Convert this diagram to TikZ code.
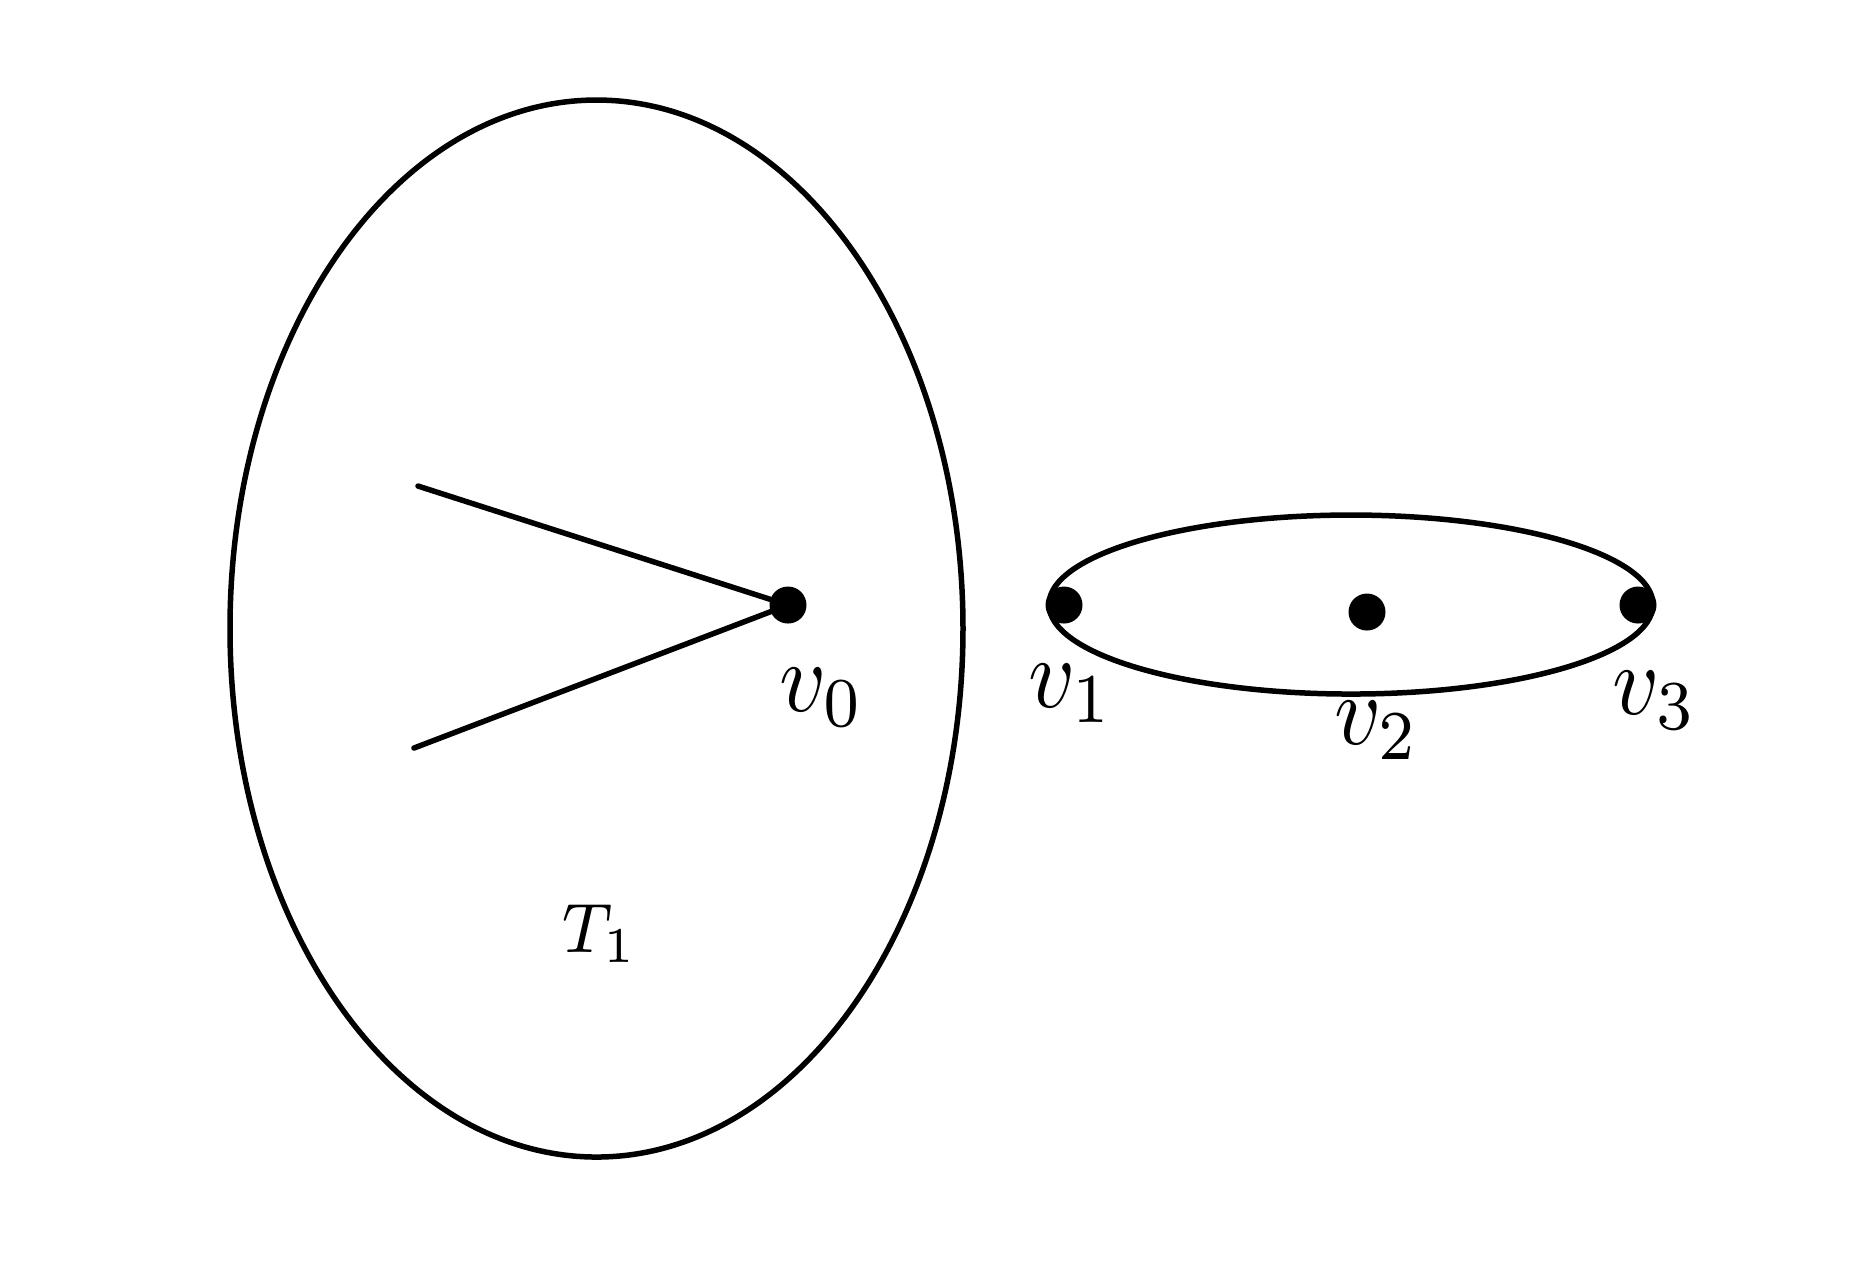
\documentclass[tikz,border=0pt]{standalone}
\begin{document}
\begin{tikzpicture}[x=0.1pt,y=-0.1pt,
  line width=0.55pt,
  vdot/.style={circle,fill=black,inner sep=0pt,minimum size=3.7pt},
  vlabel/.style={inner sep=0pt,font=\fontsize{9.6}{11}\selectfont},
  tlabel/.style={inner sep=0pt,font=\fontsize{7.4}{9}\selectfont}]
\useasboundingbox (0,0) rectangle (1854,1263);
% big ellipse T1
\draw (596.5,628.5) ellipse [x radius=366.5, y radius=528.5];
% small ellipse
\draw (1351,604.5) ellipse [x radius=302, y radius=89.5];
% v0 and edges
\node[vdot] (v0) at (788,605) {};
\coordinate (a) at (418,486);
\coordinate (b) at (414,748);
\draw[line cap=round] (a) -- (v0.center);
\draw[line cap=round] (b) -- (v0.center);
% other vertices
\node[vdot] (v1) at (1064,605) {};
\node[vdot] (v2) at (1367,612) {};
\node[vdot] (v3) at (1638,605) {};
% labels
\node[vlabel] (lv0) at (822,697) {\scalebox{0.91}[1]{$v_0$}};
\node[vlabel] (lv1) at (1071,693) {\scalebox{0.91}[1]{$v_1$}};
\node[vlabel] (lv2) at (1377,730) {\scalebox{0.91}[1]{$v_2$}};
\node[vlabel] (lv3) at (1655,700) {\scalebox{0.91}[1]{$v_3$}};
\node[tlabel] (lt1) at (600,934) {\scalebox{0.9}[1]{$T_1$}};
\end{tikzpicture}
\end{document}
